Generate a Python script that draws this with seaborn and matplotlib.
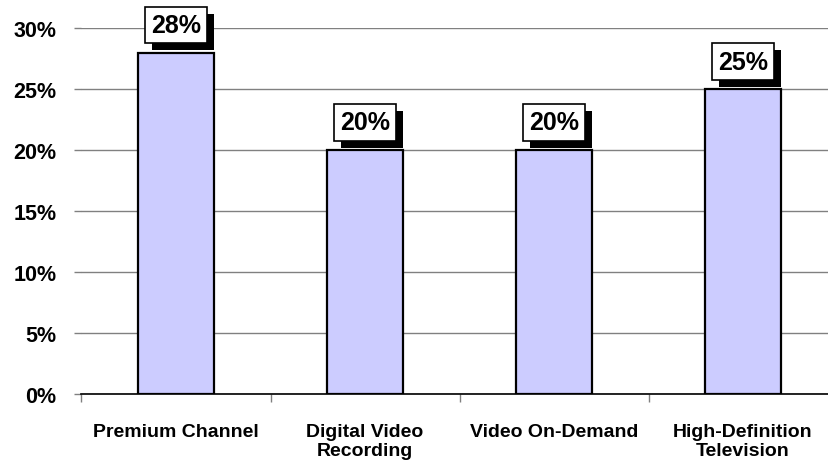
import matplotlib
matplotlib.use("Agg")
import matplotlib.pyplot as plt
import matplotlib.patheffects as pe
import seaborn as sns
import pandas as pd
from matplotlib.ticker import FixedLocator, PercentFormatter

categories = ["Premium Channel", "Digital Video\nRecording", "Video On-Demand", "High-Definition\nTelevision"]
values = [28, 20, 20, 25]
labels = ["28%", "20%", "20%", "25%"]
yticks = [0, 5, 10, 15, 20, 25, 30]

sns.set_theme(style="white")
plt.rcParams['font.family'] = ['Liberation Sans', 'DejaVu Sans']
plt.rcParams['text.color'] = 'black'
plt.rcParams['xtick.color'] = 'black'
plt.rcParams['ytick.color'] = 'black'

df = pd.DataFrame({"cat": categories, "val": values})

fig = plt.figure(figsize=(8.29, 4.64), dpi=100)
ax = fig.add_axes([0.0983, 0.1487, 0.912, 0.788])

sns.barplot(data=df, x="cat", y="val", color="#CCCCFF", saturation=1,
            edgecolor="black", linewidth=1.6, width=0.4, ax=ax, zorder=3)

ax.set_ylim(0, 30)
ax.set_xlim(-0.5, 3.5)
ax.set_yticks(yticks)
ax.yaxis.set_major_formatter(PercentFormatter(decimals=0))
ax.set_axisbelow(True)
ax.yaxis.grid(True, color="#808080", linewidth=1.0)
ax.xaxis.grid(False)
for s in ["left", "right", "top"]:
    ax.spines[s].set_visible(False)
ax.spines["bottom"].set_color("black")
ax.spines["bottom"].set_linewidth(1.2)
ax.set_xlabel("")
ax.set_ylabel("")

ax.tick_params(axis="y", which="major", left=True, length=5, width=1, color="#808080",
               labelcolor="black", labelsize=15.5, pad=13)
for t in ax.get_yticklabels():
    t.set_fontweight("bold")
ax.tick_params(axis="x", which="major", bottom=False, labelcolor="black", labelsize=14, pad=15)
ax.xaxis.set_minor_locator(FixedLocator([-0.5, 0.5, 1.5, 2.5, 3.5]))
ax.tick_params(axis="x", which="minor", bottom=True, length=6, width=1, color="#808080")
for t in ax.get_xticklabels():
    t.set_fontweight("bold")
    t.set_linespacing(1.15)

for i, (v, lab) in enumerate(zip(values, labels)):
    t = ax.annotate(lab, xy=(i, v), xytext=(0, 20), textcoords="offset points",
                    ha="center", va="center", fontsize=18, fontweight="bold", color="black",
                    bbox=dict(boxstyle="square,pad=0.25", fc="white", ec="black", lw=1.2),
                    zorder=6, annotation_clip=False)
    t.get_bbox_patch().set_path_effects([
        pe.SimplePatchShadow(offset=(5, -5), shadow_rgbFace="black", alpha=1.0),
        pe.Normal(),
    ])

fig.savefig("out.png", dpi=100)
